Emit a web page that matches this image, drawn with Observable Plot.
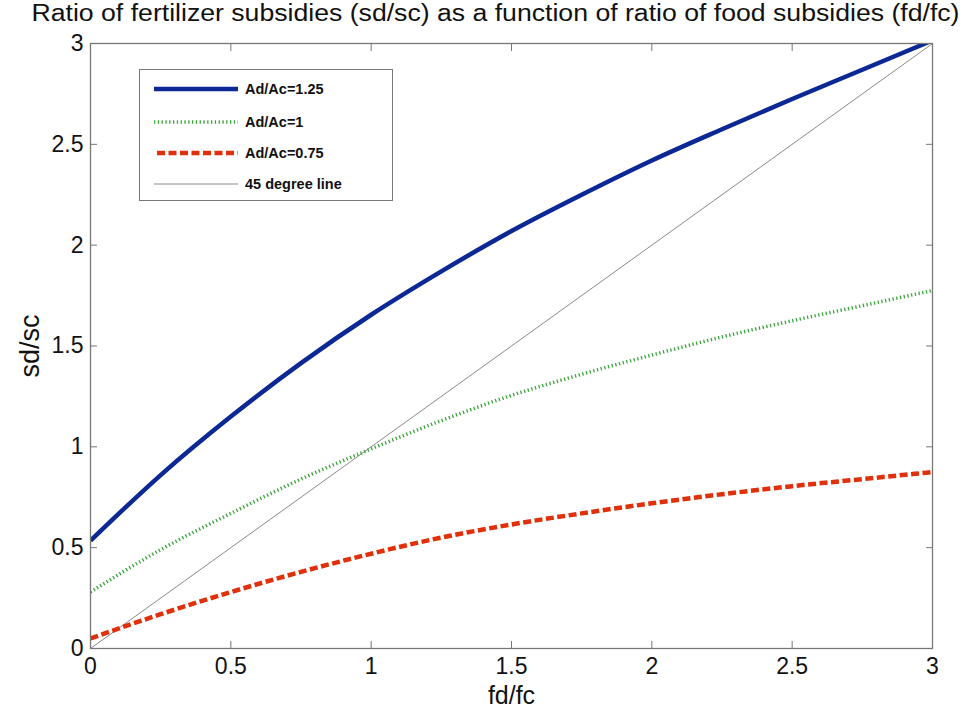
<!DOCTYPE html>
<html>
<head>
<meta charset="utf-8">
<script src="https://cdn.jsdelivr.net/npm/d3@7"></script>
<script src="https://cdn.jsdelivr.net/npm/@observablehq/plot@0.6"></script>
<style>
  html, body { margin: 0; padding: 0; background: #fff; }
  #wrap { position: relative; width: 977px; height: 716px; font-family: "Liberation Sans", Arial, sans-serif; }
  #legend { position: absolute; left: 139px; top: 69px; width: 254px; height: 132px; border: 1px solid #777; background: #fff; box-sizing: border-box; }
  #legend .row { position: absolute; left: 14px; height: 20px; display: flex; align-items: center; }
  #legend .row span { margin-left: 7px; font-size: 14.5px; font-weight: bold; color: #111; white-space: nowrap; }
</style>
</head>
<body>
<div id="wrap"></div>
<script>
// ---- data ----
const fdfc = [0, 0.25, 0.5, 0.75, 1, 1.25, 1.5, 1.75, 2, 2.25, 2.5, 2.75, 3];
const sdscA125 = [0.535, 0.86, 1.15, 1.415, 1.655, 1.87, 2.07, 2.25, 2.42, 2.575, 2.725, 2.87, 3.015];
const sdscA100 = [0.28, 0.49, 0.67, 0.84, 0.99, 1.13, 1.255, 1.36, 1.455, 1.545, 1.625, 1.70, 1.775];
const sdscA075 = [0.05, 0.17, 0.28, 0.38, 0.47, 0.55, 0.615, 0.67, 0.72, 0.765, 0.805, 0.84, 0.875];
const diagX = [0, 3];
const diagY = [0, 3];
const seriesNames = ["Ad/Ac=1.25", "Ad/Ac=1", "Ad/Ac=0.75", "45 degree line"];
const tickValues = [0, 0.5, 1, 1.5, 2, 2.5, 3];
const tickLabels = ["0", "0.5", "1", "1.5", "2", "2.5", "3"];
const titleText = "Ratio of fertilizer subsidies (sd/sc) as a function of ratio of food subsidies (fd/fc)";
const xLabel = "fd/fc";
const yLabel = "sd/sc";

// ---- styles ----
const styles = [
  {stroke: "#0b2894", strokeWidth: 4.5, dash: null},
  {stroke: "#3aa63a", strokeWidth: 3.5, dash: "1.3,2.5"},
  {stroke: "#e0300a", strokeWidth: 4.5, dash: "8,3.5"},
  {stroke: "#8a8a8a", strokeWidth: 1, dash: null}
];

const toRows = (xs, ys) => xs.map((x, i) => ({x, y: ys[i]}));
const fmt = d => tickLabels[tickValues.indexOf(d)] ?? String(d);

const lineOpts = (s) => ({
  x: "x", y: "y", curve: "monotone-x", clip: true,
  stroke: s.stroke, strokeWidth: s.strokeWidth,
  strokeDasharray: s.dash, strokeLinecap: "butt", strokeLinejoin: "round"
});

const chart = Plot.plot({
  width: 977,
  height: 716,
  marginLeft: 90,
  marginRight: 45,
  marginTop: 43,
  marginBottom: 68,
  x: {domain: [0, 3], label: null},
  y: {domain: [0, 3], label: null},
  style: {fontFamily: "Liberation Sans, Arial, sans-serif", background: "#fff", color: "#111"},
  marks: [
    Plot.line(toRows(diagX, diagY), {x: "x", y: "y", stroke: styles[3].stroke, strokeWidth: styles[3].strokeWidth}),
    Plot.line(toRows(fdfc, sdscA075), lineOpts(styles[2])),
    Plot.line(toRows(fdfc, sdscA100), lineOpts(styles[1])),
    Plot.line(toRows(fdfc, sdscA125), lineOpts(styles[0])),
    Plot.frame({stroke: "#777", strokeWidth: 1.3}),
    Plot.axisX({ticks: tickValues, tickFormat: fmt, tickSize: -7, tickPadding: 16, fontSize: 23, stroke: "#777", label: null}),
    Plot.axisX({anchor: "top", ticks: tickValues, tickFormat: () => "", tickSize: -7, stroke: "#777", label: null}),
    Plot.axisY({ticks: tickValues, tickFormat: fmt, tickSize: -7, tickPadding: 14, fontSize: 23, stroke: "#777", label: null}),
    Plot.axisY({anchor: "right", ticks: tickValues, tickFormat: () => "", tickSize: -7, stroke: "#777", label: null}),
    Plot.text([xLabel], {text: d => d, frameAnchor: "bottom", textAnchor: "middle", lineAnchor: "middle", dy: 47, fontSize: 25, fill: "#111"}),
    Plot.text([yLabel], {text: d => d, frameAnchor: "left", textAnchor: "middle", lineAnchor: "middle", dx: -60, rotate: -90, fontSize: 27, fill: "#111"}),
    Plot.text([titleText], {text: d => d, frameAnchor: "top", textAnchor: "middle", lineAnchor: "middle", dx: -16, dy: -30, fontSize: 23, fill: "#111", className: "chart-title"})
  ]
});

// stretch title horizontally like the reference
d3.select(chart).selectAll(".chart-title text")
  .attr("textLength", 928).attr("lengthAdjust", "spacingAndGlyphs");

const wrap = document.getElementById("wrap");
wrap.appendChild(chart);

// ---- legend ----
const legend = document.createElement("div");
legend.id = "legend";
const rowTops = [9, 42, 73, 104];
seriesNames.forEach((name, i) => {
  const s = styles[i];
  const row = document.createElement("div");
  row.className = "row";
  row.style.top = rowTops[i] + "px";
  const svg = d3.create("svg").attr("width", 84).attr("height", 20);
  svg.append("line").attr("x1", i === 2 ? 3 : 0).attr("x2", 84).attr("y1", 10).attr("y2", 10)
    .attr("stroke", s.stroke).attr("stroke-width", s.strokeWidth)
    .attr("stroke-dasharray", s.dash);
  row.appendChild(svg.node());
  const span = document.createElement("span");
  span.textContent = name;
  row.appendChild(span);
  legend.appendChild(row);
});
wrap.appendChild(legend);
</script>
</body>
</html>
